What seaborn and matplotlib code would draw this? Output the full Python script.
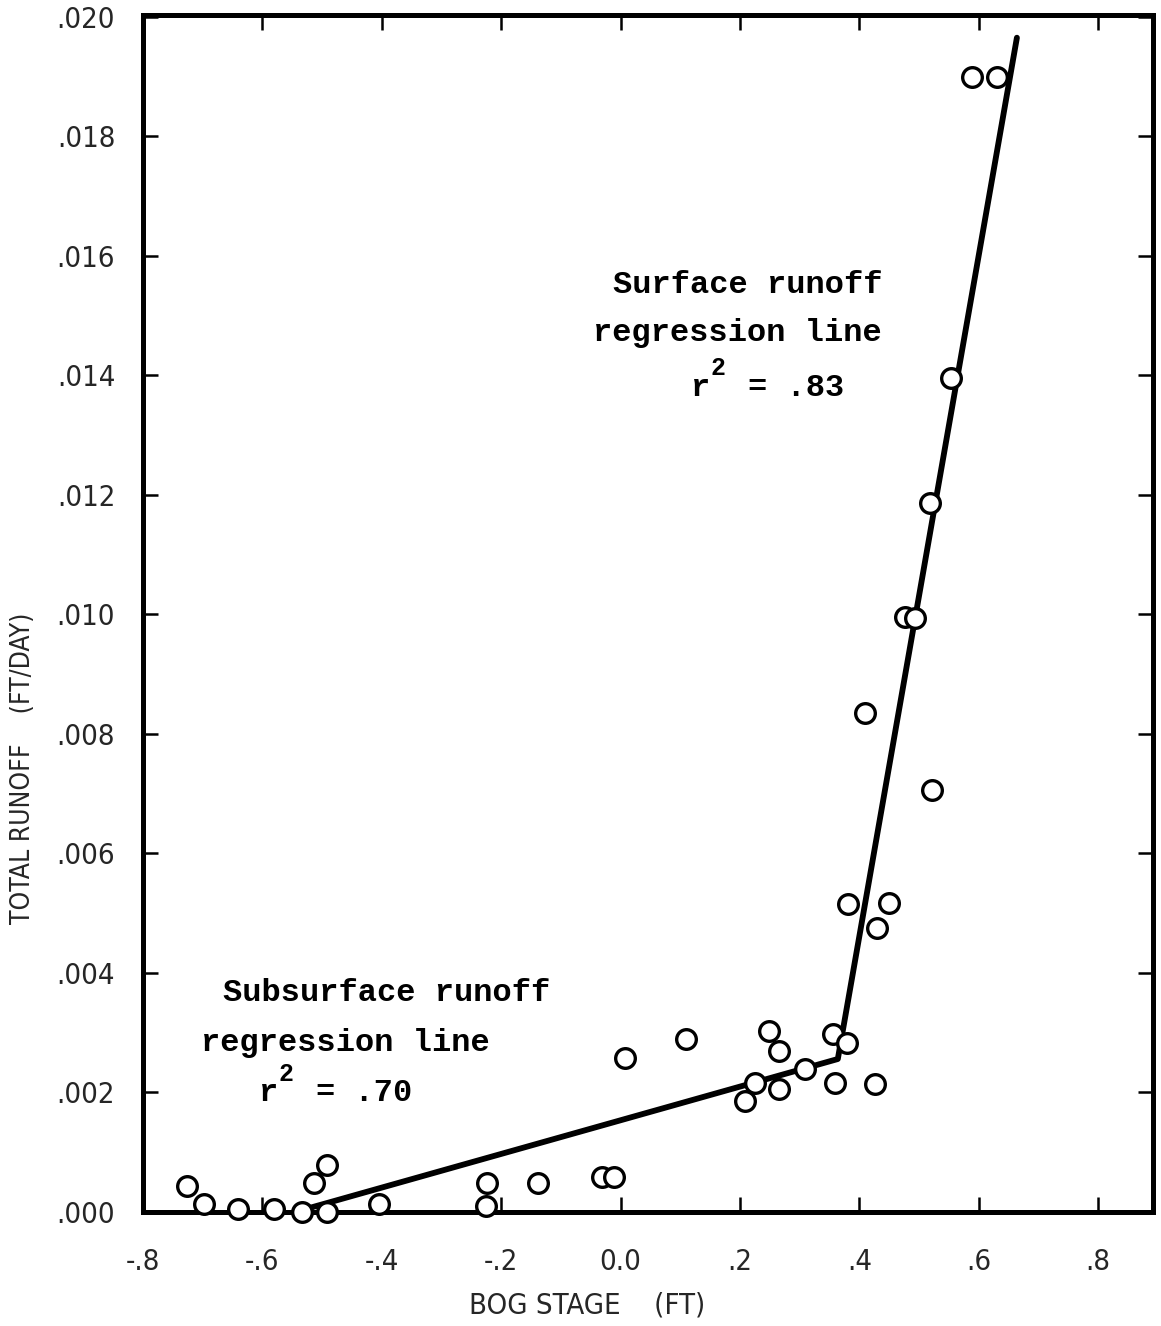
import matplotlib
matplotlib.use("Agg")
import matplotlib.pyplot as plt
import seaborn as sns
import pandas as pd

# Observed bog stage (ft) and total runoff (ft/day)
bog_stage = [-0.727, -0.697, -0.641, -0.581, -0.534, -0.491, -0.514, -0.491,
             -0.404, -0.226, -0.224, -0.138, -0.031, -0.011, 0.008, 0.109,
             0.208, 0.226, 0.248, 0.266, 0.266, 0.309, 0.356, 0.359, 0.379,
             0.426, 0.381, 0.429, 0.449, 0.409, 0.521, 0.476, 0.493, 0.518,
             0.553, 0.589, 0.631]
total_runoff = [0.00044, 0.00013, 0.00005, 0.00005, 0.0, 0.0, 0.00049, 0.00079,
                0.00013, 0.0001, 0.00049, 0.00049, 0.00059, 0.00059, 0.00258, 0.0029,
                0.00186, 0.00216, 0.00303, 0.0027, 0.00206, 0.00239, 0.00298, 0.00216, 0.00283,
                0.00214, 0.00515, 0.00475, 0.00517, 0.00835, 0.00706, 0.00996, 0.00994, 0.01187,
                0.01396, 0.019, 0.019]

# Piecewise regression: subsurface segment then surface segment
fit_stage = [-0.545, 0.364, 0.664]
fit_runoff = [0.0, 0.00256, 0.01965]

x_ticks = [-0.8, -0.6, -0.4, -0.2, 0.0, 0.2, 0.4, 0.6, 0.8]
x_tick_labels = ["-.8", "-.6", "-.4", "-.2", "0.0", ".2", ".4", ".6", ".8"]
y_ticks = [0.000, 0.002, 0.004, 0.006, 0.008, 0.010, 0.012, 0.014, 0.016, 0.018, 0.020]
y_tick_labels = [".000", ".002", ".004", ".006", ".008", ".010", ".012", ".014", ".016", ".018", ".020"]

points = pd.DataFrame({"stage": bog_stage, "runoff": total_runoff})
fit = pd.DataFrame({"stage": fit_stage, "runoff": fit_runoff})

sns.set_style("ticks")
plt.rcParams["font.family"] = ["DejaVu Sans"]
plt.rcParams["font.stretch"] = "condensed"

fig = plt.figure(figsize=(11.61, 13.26), dpi=100)
ax = fig.add_axes([143 / 1161, 1 - 1212 / 1326, 1010 / 1161, 1197 / 1326])

sns.lineplot(data=fit, x="stage", y="runoff", ax=ax, color="black",
             linewidth=4.2, sort=False, zorder=2)
sns.scatterplot(data=points, x="stage", y="runoff", ax=ax, marker="o", s=200,
                facecolor="white", edgecolor="black", linewidth=2.4, zorder=3,
                clip_on=False)

ax.set_xlim(-0.79, 0.892)
ax.set_ylim(0.0, 0.02003)
ax.set_xticks(x_ticks)
ax.set_xticklabels(x_tick_labels)
ax.set_yticks(y_ticks)
ax.set_yticklabels(y_tick_labels)

for side in ["left", "right", "top", "bottom"]:
    ax.spines[side].set_visible(True)
    ax.spines[side].set_linewidth(3.6)
    ax.spines[side].set_color("black")

ax.tick_params(axis="both", which="major", direction="in", top=True, right=True,
               length=11, width=1.8, color="black", labelsize=21)
ax.tick_params(axis="x", pad=26)
ax.tick_params(axis="y", pad=20)

ax.set_xlabel("BOG STAGE    (FT)", fontsize=21)
ax.set_ylabel("TOTAL RUNOFF    (FT/DAY)", fontsize=19)
ax.xaxis.set_label_coords(0.44, -0.0665)
ax.yaxis.set_label_coords(-0.106, 0.371)

mono = dict(family=["Liberation Mono", "DejaVu Sans Mono"], fontsize=23,
            fontweight="bold", color="black", va="baseline", ha="left")
sup = {**mono, "fontsize": 18}

ax.text(-0.0125, 0.01538, "Surface runoff", **mono)
ax.text(-0.046, 0.01458, "regression line", **mono)
ax.text(0.1175, 0.01366, "r", **mono)
ax.text(0.150, 0.01400, "2", **sup)
ax.text(0.213, 0.01366, "= .83", **mono)

ax.text(-0.666, 0.00353, "Subsurface runoff", **mono)
ax.text(-0.7025, 0.00269, "regression line", **mono)
ax.text(-0.606, 0.00186, "r", **mono)
ax.text(-0.5735, 0.00220, "2", **sup)
ax.text(-0.5105, 0.00186, "= .70", **mono)

fig.savefig("out.png", dpi=100, facecolor="white")
